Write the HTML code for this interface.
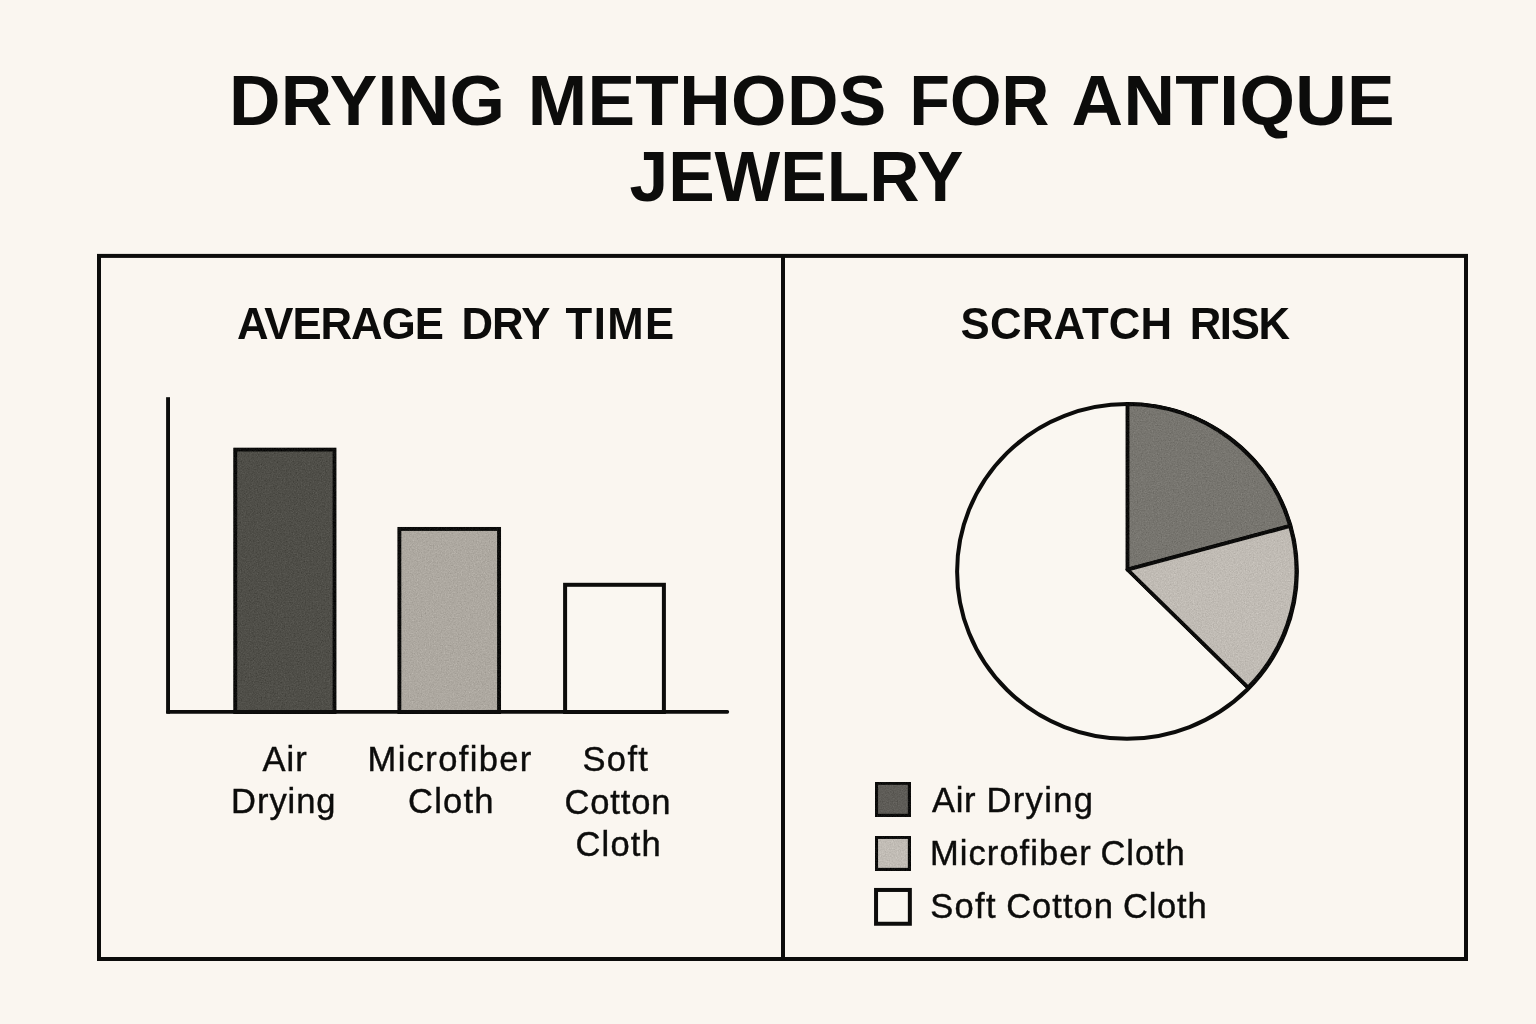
<!DOCTYPE html>
<html lang="en">
<head>
<meta charset="utf-8">
<title>Drying Methods for Antique Jewelry</title>
<style>
  html,body{margin:0;padding:0;background:#faf6f0;}
  body{width:1536px;height:1024px;overflow:hidden;font-family:"Liberation Sans",sans-serif;}
  svg{display:block;position:absolute;left:0;top:0;}
  text{font-family:"Liberation Sans",sans-serif;fill:#0c0c0b;white-space:pre;}
  .title{font-weight:700;}
  .sub{font-weight:700;}
  .lbl,.leg{font-weight:400;stroke:#0c0c0b;stroke-width:.4px;}
</style>
</head>
<body>
<svg width="1536" height="1024" viewBox="0 0 1536 1024">
  <rect x="0" y="0" width="1536" height="1024" fill="#faf6f0"/>

  <defs>
    <filter id="grain" x="-2%" y="-2%" width="104%" height="104%" color-interpolation-filters="sRGB">
      <feTurbulence type="fractalNoise" baseFrequency="0.75" numOctaves="2" seed="7" result="t"/>
      <feColorMatrix in="t" type="matrix" values="0.34 0.33 0.33 0 0  0.34 0.33 0.33 0 0  0.34 0.33 0.33 0 0  0 0 0 0 1" result="g"/>
      <feComposite in="SourceGraphic" in2="g" operator="arithmetic" k1="0" k2="1" k3="0.26" k4="-0.13" result="m"/>
      <feComposite in="m" in2="SourceGraphic" operator="in"/>
    </filter>
  </defs>
  <!-- outer frame and divider -->
  <rect x="99" y="255.9" width="1367" height="703.1" fill="none" stroke="#0c0c0b" stroke-width="4"/>
  <rect x="781" y="256" width="4" height="703" fill="#0c0c0b"/>

  <!-- bar chart -->
  <rect filter="url(#grain)" x="235.20" y="449.50" width="99.40" height="262.50" fill="#4f4e48" stroke="#0c0c0b" stroke-width="4.0"/>
  <rect filter="url(#grain)" x="399.30" y="528.90" width="99.80" height="183.10" fill="#ada8a0" stroke="#0c0c0b" stroke-width="4.0"/>
  <rect x="565.10" y="584.80" width="98.80" height="127.20" fill="#faf7f1" stroke="#0c0c0b" stroke-width="4.0"/>
  <rect x="166.1" y="397.2" width="3.9" height="316.5" fill="#0c0c0b"/>
  <rect x="166.1" y="710" width="563" height="3.7" rx="1.6" fill="#0c0c0b"/>

  <!-- pie chart -->
  <g stroke="#0c0c0b" stroke-width="4" stroke-linejoin="round">
    <ellipse cx="1127.0" cy="571.45" rx="169.9" ry="167.35" fill="#faf7f1"/>
    <path filter="url(#grain)" d="M1127.4 569.6 L1127.4 404.10 A169.9 167.35 0 0 1 1290.2 525.9 Z" fill="#77756f"/>
    <path filter="url(#grain)" d="M1127.4 569.6 L1290.2 525.9 A169.9 167.35 0 0 1 1248.1 687.7 Z" fill="#c0bbb4"/>
  </g>

  <!-- legend swatches -->
  <rect filter="url(#grain)" x="876.05" y="782.85" width="33.80" height="32.90" fill="#5e5c57" stroke="#0c0c0b" stroke-width="4.0"/>
  <rect filter="url(#grain)" x="876.05" y="836.95" width="33.80" height="32.90" fill="#c1bcb5" stroke="#0c0c0b" stroke-width="4.0"/>
  <rect x="876.05" y="889.95" width="33.80" height="33.80" fill="#faf7f1" stroke="#0c0c0b" stroke-width="4.0"/>

  <!-- Title: DRYING METHODS FOR ANTIQUE JEWELRY -->
  <g>
    <text class="title" x="228.91" y="125.3" font-size="71.3" letter-spacing="0.262">DRYING</text>
    <text class="title" x="527.68" y="125.3" font-size="71.3" letter-spacing="0.365">METHODS</text>
    <text class="title" transform="translate(909.47 125.3) scale(0.9287 1)" font-size="71.3">FOR</text>
    <text class="title" x="1071.62" y="125.3" font-size="71.3" letter-spacing="0.360">ANTIQUE</text>
    <text class="title" transform="translate(629.44 201.0) scale(0.9766 1)" font-size="71.3">JEWELRY</text>
  </g>
  <!-- Left panel heading: AVERAGE DRY TIME -->
  <g>
    <text class="sub" x="236.90" y="339.1" font-size="43.7" letter-spacing="-0.980">AVERAGE</text>
    <text class="sub" x="461.40" y="339.1" font-size="43.7" letter-spacing="-0.853">DRY</text>
    <text class="sub" x="565.53" y="339.1" font-size="43.7" letter-spacing="1.441">TIME</text>
  </g>
  <!-- Right panel heading: SCRATCH RISK -->
  <g>
    <text class="sub" x="960.61" y="339.1" font-size="43.7" letter-spacing="0.196">SCRATCH</text>
    <text class="sub" x="1189.65" y="339.1" font-size="43.7" letter-spacing="-1.339">RISK</text>
  </g>
  <!-- Bar labels -->
  <g>
    <text class="lbl" x="262.44" y="770.9" font-size="34.5" letter-spacing="1.081">Air</text>
    <text class="lbl" x="231.12" y="813.4" font-size="34.5" letter-spacing="0.933">Drying</text>
    <text class="lbl" x="367.60" y="771.1" font-size="34.5" letter-spacing="1.361">Microfiber</text>
    <text class="lbl" x="408.00" y="813.4" font-size="34.5" letter-spacing="1.223">Cloth</text>
    <text class="lbl" x="582.53" y="771.3" font-size="34.5" letter-spacing="1.346">Soft</text>
    <text class="lbl" x="564.50" y="813.6" font-size="34.5" letter-spacing="0.840">Cotton</text>
    <text class="lbl" x="575.50" y="855.6" font-size="34.5" letter-spacing="1.173">Cloth</text>
  </g>
  <!-- Legend labels -->
  <g>
    <text class="leg" x="931.89" y="812.1" font-size="34.5" letter-spacing="0.781">Air</text>
    <text class="leg" x="986.48" y="812.1" font-size="34.5" letter-spacing="1.340">Drying</text>
    <text class="leg" x="930.10" y="864.6" font-size="34.5" letter-spacing="1.036">Microfiber</text>
    <text class="leg" x="1100.50" y="864.6" font-size="34.5" letter-spacing="0.900">Cloth</text>
    <text class="leg" x="930.23" y="917.9" font-size="34.5" letter-spacing="1.319">Soft</text>
    <text class="leg" x="1006.16" y="917.9" font-size="34.5" letter-spacing="1.026">Cotton</text>
    <text class="leg" x="1123.00" y="917.9" font-size="34.5" letter-spacing="0.762">Cloth</text>
  </g>
</svg>
</body>
</html>
